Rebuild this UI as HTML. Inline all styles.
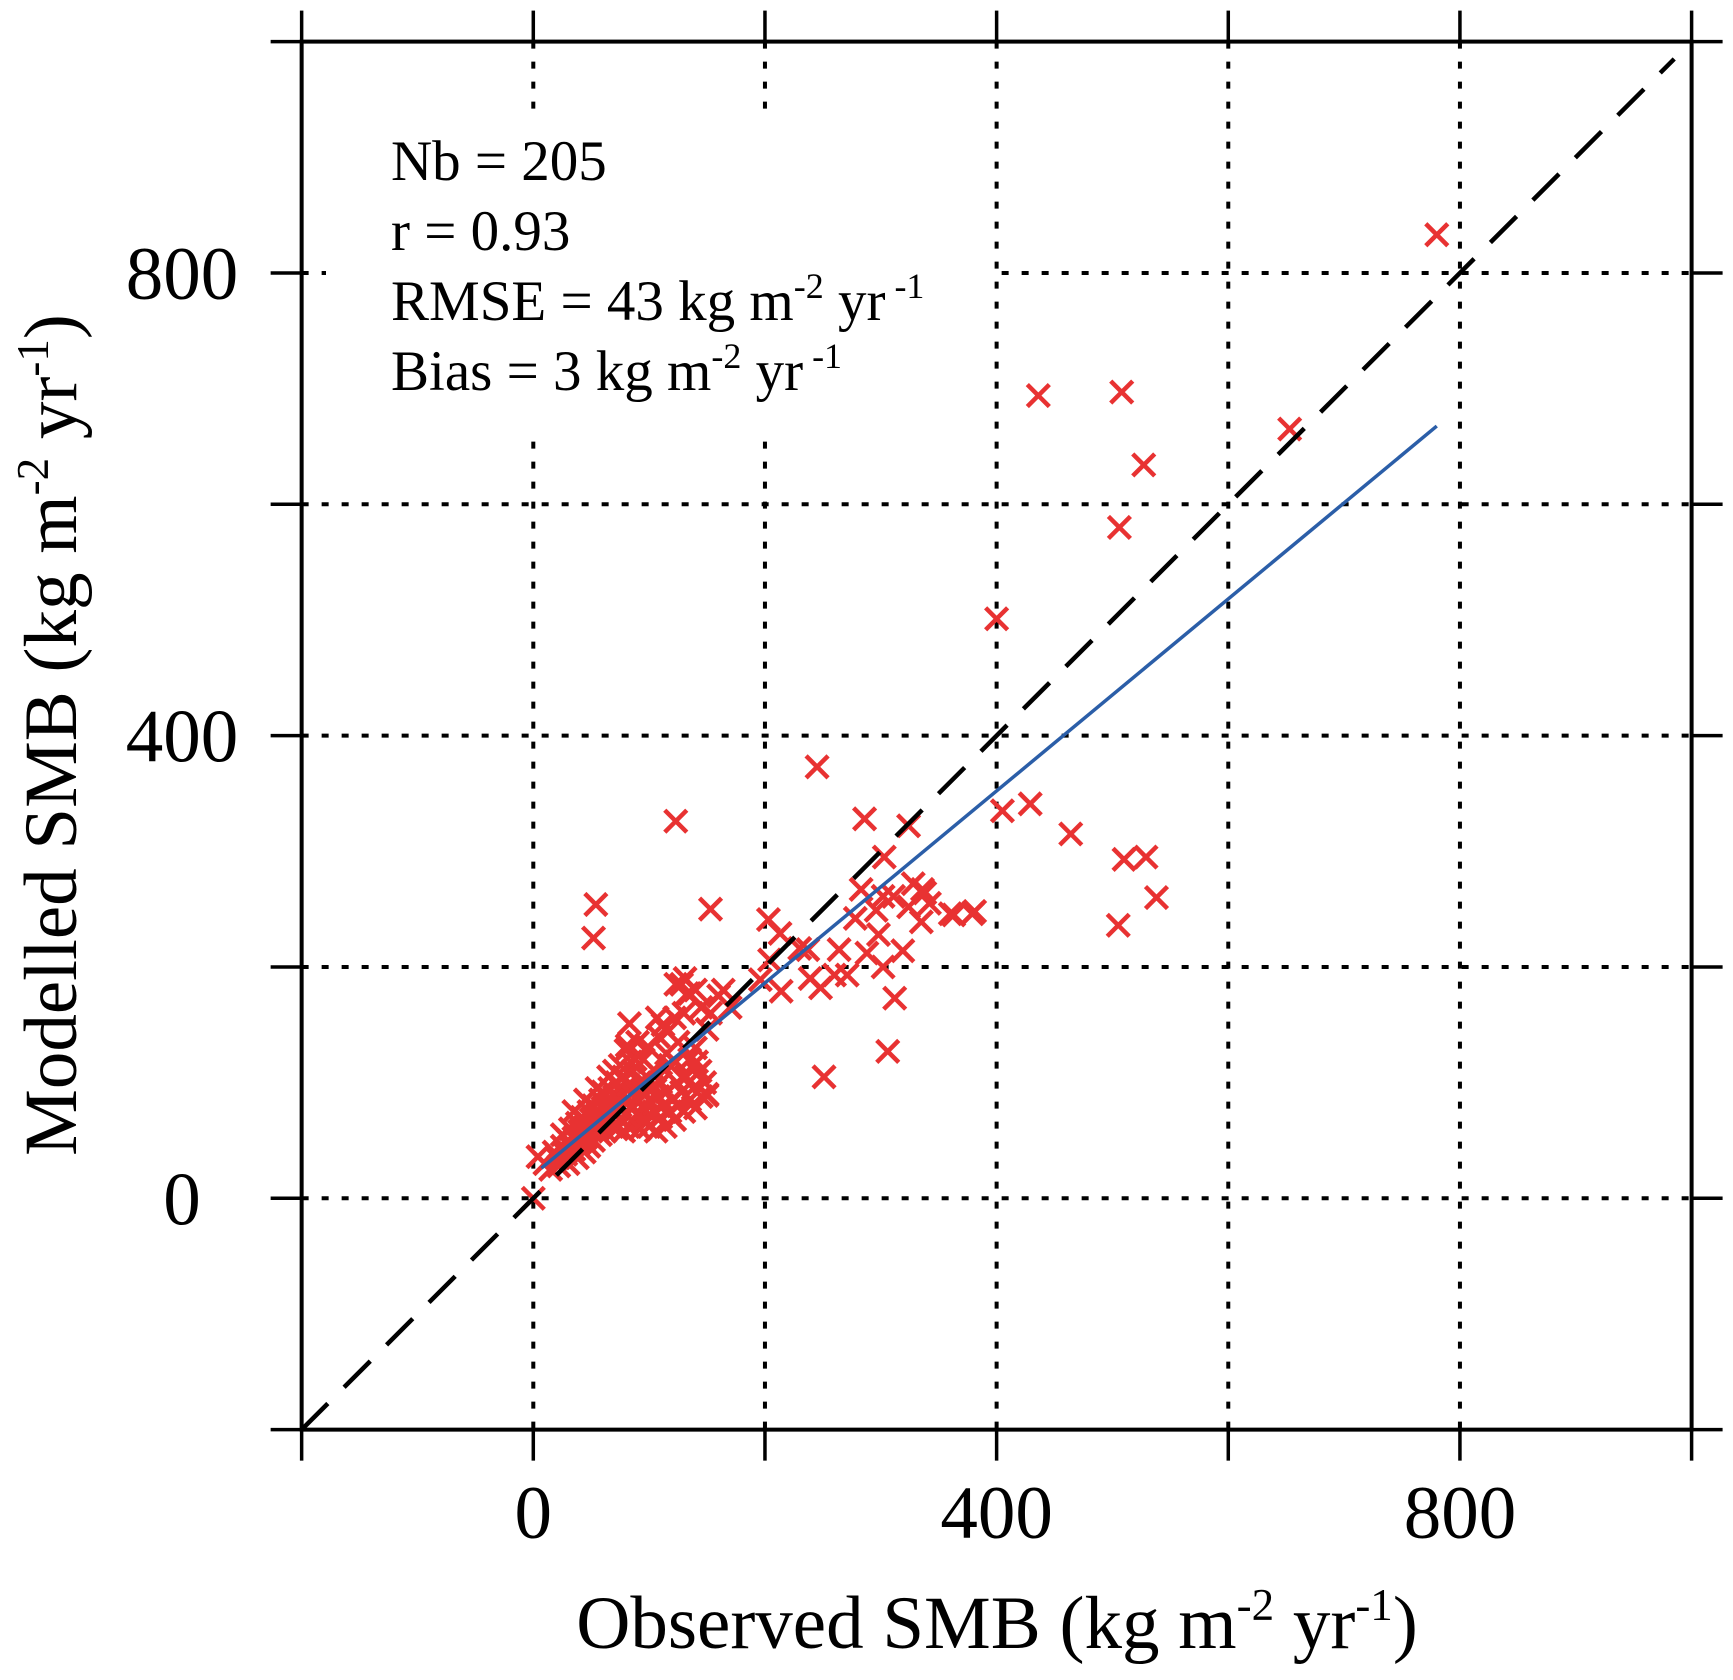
<!DOCTYPE html>
<html><head><meta charset="utf-8"><style>
html,body{margin:0;padding:0;background:#fff;}
svg{display:block;font-family:"Liberation Serif","Times New Roman",serif;}
</style></head><body>
<svg id="chart" width="1733" height="1680" viewBox="0 0 1733 1680" xmlns="http://www.w3.org/2000/svg">
<g id="grid"></g>
<rect x="326" y="116" width="664" height="315" fill="#fff"/>
<g id="marks"></g>
<g id="lines"></g>
<g id="axes"></g>
<g font-size="57" fill="#000">
<text x="391" y="180">Nb = 205</text>
<text x="391" y="250">r = 0.93</text>
<text x="391" y="320">RMSE = 43 kg m<tspan font-size="36" dy="-22">-2</tspan><tspan dy="22"> yr</tspan><tspan font-size="36" dy="-22"> -1</tspan></text>
<text x="391" y="390">Bias = 3 kg m<tspan font-size="36" dy="-22">-2</tspan><tspan dy="22"> yr</tspan><tspan font-size="36" dy="-22"> -1</tspan></text>
</g>
<text x="997" y="1648" font-size="75" text-anchor="middle">Observed SMB (kg m<tspan font-size="45" dy="-28">-2</tspan><tspan dy="28"> yr</tspan><tspan font-size="45" dy="-28">-1</tspan><tspan dy="28">)</tspan></text>
<text transform="translate(76,735) rotate(-90)" font-size="75" text-anchor="middle">Modelled SMB (kg m<tspan font-size="45" dy="-28">-2</tspan><tspan dy="28"> yr</tspan><tspan font-size="45" dy="-28">-1</tspan><tspan dy="28">)</tspan></text>
</svg>
<script>
const ticks = [-200, 0, 200, 400, 600, 800, 1000];
const gridVals = [0, 200, 400, 600, 800];
const tickLabels = ["0", "400", "800"];
const tickLabelVals = [0, 400, 800];
const fitSlope = 0.830;
const fitIntercept = 20.2;
const fitRange = [7, 780];
const obsX = [780,436,508,653,527,506,400,245,123,286,324,405,429,464,510,529,538,505,303,54,52,153,203,213,251,306,312,379,360,336,328,338,342,324,311,302,296,278,335,363,381,298,319,288,264,302,271,260,248,239,237,230,214,204,196,283,164,150,123,131,135,122,116,150,123,83,107,81,141,144,0,4,
10,15,18,20,22,25,25,28,30,30,32,35,35,38,38,40,40,42,44,45,45,48,48,50,50,52,52,55,55,58,58,60,60,62,62,65,65,66,68,70,70,72,72,75,75,76,78,78,80,80,82,82,85,85,86,88,88,90,90,92,92,95,95,96,98,100,100,102,104,105,106,108,110,110,112,114,115,118,118,120,122,124,125,128,130,132,135,138,140,142,145,148,150,60,70,80,90,100,108,84,55,45,35,65,95,75,115,125,135,140,130,145,140,128,133,112,160,153,170];
const modY = [833,694,697,665,634,580,501,373,326,328,322,335,341,315,293,295,260,236,295,254,225,250,241,229,105,127,173,246,246,267,272,264,255,252,261,261,249,242,239,245,248,228,214,212,215,200,193,193,182,190,215,216,179,206,189,267,180,146,185,190,177,156,144,89,118,151,156,132,118,110,0,36,
30,25,40,35,28,45,55,38,50,30,60,42,52,65,35,48,58,70,40,62,52,75,45,58,68,80,50,62,72,85,55,65,78,90,58,70,82,95,62,75,88,100,60,68,80,92,105,58,72,85,98,62,78,90,110,65,120,72,85,100,60,78,92,68,105,85,62,95,75,110,58,88,70,100,80,62,92,75,115,85,68,100,80,92,75,105,85,95,78,108,88,100,90,92,110,128,135,130,140,118,95,85,75,105,120,115,125,135,120,130,160,165,180,185,177,150,175,160,165];

const X0 = 533.3, Y0 = 1198.3, KX = 1.1583, KY = 1.1567;
function sx(v){ return X0 + v*KX; }
function sy(v){ return Y0 - v*KY; }
const NS = "http://www.w3.org/2000/svg";
function mk(tag, attrs, parent){ const e=document.createElementNS(NS,tag); for(const k in attrs) e.setAttribute(k,attrs[k]); parent.appendChild(e); return e; }

const grid = document.getElementById('grid');
gridVals.forEach(v=>{
  const gv = mk('line',{x1:sx(v),x2:sx(v),y1:sy(1000),y2:sy(-200),stroke:'#000','stroke-width':4,'stroke-dasharray':'7 13'},grid);
  
  
  const gh = mk('line',{x1:sx(-200),x2:sx(1000),y1:sy(v),y2:sy(v),stroke:'#000','stroke-width':4,'stroke-dasharray':'7 13'},grid);
  
  
});

const marks = document.getElementById('marks');
const r = 11;
for(let i=0;i<obsX.length;i++){
  const cx=sx(obsX[i]), cy=sy(modY[i]);
  const p = mk('path',{d:`M${cx-r},${cy-r}L${cx+r},${cy+r}M${cx-r},${cy+r}L${cx+r},${cy-r}`,stroke:'#e83232','stroke-width':4.5,fill:'none'},marks);
  
  
}

const lines = document.getElementById('lines');
const d1 = mk('line',{x1:sx(-200),y1:sy(-200),x2:sx(985),y2:sy(985),stroke:'#000','stroke-width':4.5,'stroke-dasharray':'37 23'},lines);


const fl = mk('line',{x1:sx(fitRange[0]),y1:sy(fitIntercept+fitSlope*fitRange[0]),x2:sx(fitRange[1]),y2:sy(fitIntercept+fitSlope*fitRange[1]),stroke:'#2b5ea8','stroke-width':3.5},lines);



const axes = document.getElementById('axes');
const fr = mk('rect',{x:sx(-200),y:sy(1000),width:sx(1000)-sx(-200),height:sy(-200)-sy(1000),fill:'none',stroke:'#000','stroke-width':4},axes);


const T = 31;
ticks.forEach(v=>{
  const a = mk('line',{x1:sx(v),x2:sx(v),y1:sy(1000)-T,y2:sy(1000),stroke:'#000','stroke-width':3.5},axes);
   
  const b = mk('line',{x1:sx(v),x2:sx(v),y1:sy(-200),y2:sy(-200)+T,stroke:'#000','stroke-width':3.5},axes);
   
  const c = mk('line',{x1:sx(-200)-T,x2:sx(-200),y1:sy(v),y2:sy(v),stroke:'#000','stroke-width':3.5},axes);
   
  const d = mk('line',{x1:sx(1000),x2:sx(1000)+T,y1:sy(v),y2:sy(v),stroke:'#000','stroke-width':3.5},axes);
   
});
tickLabelVals.forEach((v,i)=>{
  const tx = mk('text',{x:sx(v),y:1538,'font-size':75,'text-anchor':'middle'},axes);
  tx.textContent = tickLabels[i];
   
  const ty = mk('text',{x:182,y:sy(v)+26,'font-size':75,'text-anchor':'middle'},axes);
  ty.textContent = tickLabels[i];
   
});
</script>
</body></html>
